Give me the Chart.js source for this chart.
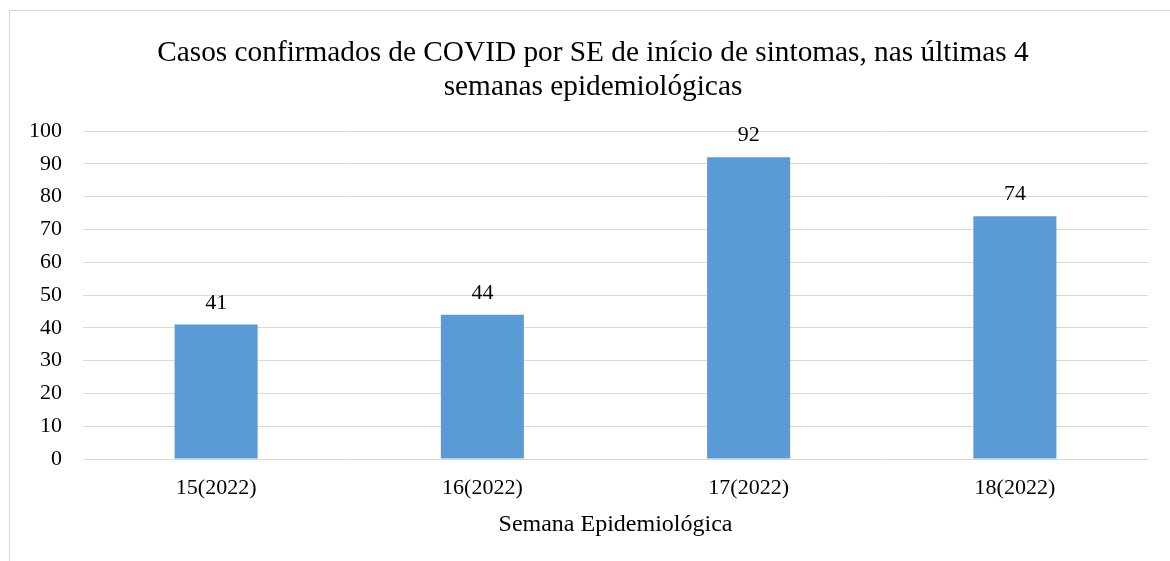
<!DOCTYPE html>
<html>
<head>
<meta charset="utf-8">
<script src="https://cdn.jsdelivr.net/npm/chart.js@4"></script>
<style>
  html, body { margin: 0; padding: 0; background: #fff; overflow: hidden; width: 1170px; height: 561px; }
  #frame { position: absolute; left: 9px; top: 10px; width: 1300px; height: 700px; border-left: 1px solid #d9d9d9; border-top: 1px solid #d9d9d9; }
  #wrap { position: absolute; left: 0; top: 0; width: 1186px; height: 561px; }
  #title { position: absolute; left: 0; top: 35px; width: 1186px; text-align: center;
           font-family: 'Liberation Serif', 'Times New Roman', serif; font-size: 29.3px; line-height: 33.7px; color: #000; }
</style>
</head>
<body>
<div id="frame"></div>
<div id="wrap"><canvas id="c" width="1186" height="561"></canvas></div>
<div id="title"></div>
<script>
const categories = ['15(2022)', '16(2022)', '17(2022)', '18(2022)'];
const casos = [41, 44, 92, 74];
const titleLines = ['Casos confirmados de COVID por SE de início de sintomas, nas últimas 4', 'semanas epidemiológicas'];
const xAxisTitle = 'Semana Epidemiológica';

const FONT = "'Liberation Serif', 'Times New Roman', serif";

const titleEl = document.getElementById('title');
titleLines.forEach((line, i) => {
  if (i > 0) titleEl.appendChild(document.createElement('br'));
  titleEl.appendChild(document.createTextNode(line));
});

const valueLabels = {
  id: 'valueLabels',
  afterDatasetsDraw(chart) {
    const ctx = chart.ctx;
    const meta = chart.getDatasetMeta(0);
    ctx.save();
    ctx.font = '22px ' + FONT;
    ctx.fillStyle = '#000';
    ctx.textAlign = 'center';
    ctx.textBaseline = 'alphabetic';
    meta.data.forEach((bar, i) => {
      ctx.fillText(String(chart.data.datasets[0].data[i]), bar.x, bar.y - 16);
    });
    ctx.restore();
  }
};

new Chart(document.getElementById('c'), {
  type: 'bar',
  data: {
    labels: categories,
    datasets: [{
      data: casos,
      backgroundColor: '#5b9bd5',
      borderWidth: 0,
      barPercentage: 1,
      categoryPercentage: 0.312
    }]
  },
  options: {
    responsive: false,
    animation: false,
    devicePixelRatio: 1,
    layout: { padding: { left: 0, right: 38, top: 131, bottom: 0 } },
    plugins: {
      legend: { display: false },
      tooltip: { enabled: false },
      title: { display: false }
    },
    scales: {
      x: {
        grid: { display: false, drawTicks: false },
        border: { display: false },
        ticks: { color: '#000', font: { family: FONT, size: 22 }, padding: 16, maxRotation: 0 },
        title: {
          display: true,
          text: xAxisTitle,
          color: '#000',
          font: { family: FONT, size: 24 },
          padding: { top: 0, bottom: 22 }
        },
        afterFit(scale) { scale.height = 102; }
      },
      y: {
        min: 0,
        max: 100,
        grid: { color: '#d9d9d9', lineWidth: 1, drawTicks: false },
        border: { display: false },
        ticks: { stepSize: 10, color: '#000', font: { family: FONT, size: 22 }, padding: 21 },
        afterFit(scale) { scale.width = 83; }
      }
    }
  },
  plugins: [valueLabels]
});
</script>
</body>
</html>
